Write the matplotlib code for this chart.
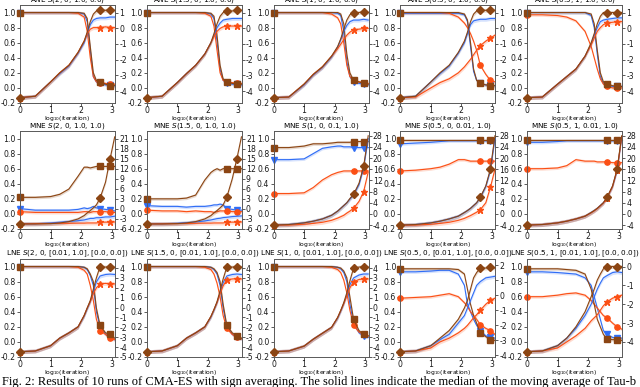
import numpy as np
import matplotlib
matplotlib.use("Agg")
import matplotlib.pyplot as plt

plt.rcParams['axes.unicode_minus'] = False

# log10(iteration) sample points
x = [0, 0.5, 1.0, 1.3, 1.6, 1.9, 2.1, 2.2, 2.3, 2.4, 2.5, 2.62, 2.8, 2.95, 3.1]
mark_idx = [0, 11, 13]

titles = [
    "ANE $S$(2, 0, 1.0, 0.0)", "ANE $S$(1.5, 0, 1.0, 0.0)", "ANE $S$(1, 0, 1.0, 0.0)",
    "ANE $S$(0.5, 0, 1.0, 0.0)", "ANE $S$(0.5, 1, 1.0, 0.0)",
    "MNE $S$(2, 0, 1.0, 1.0)", "MNE $S$(1.5, 0, 1.0, 1.0)", "MNE $S$(1, 0, 0.1, 1.0)",
    "MNE $S$(0.5, 0, 0.01, 1.0)", "MNE $S$(0.5, 1, 0.01, 1.0)",
    "LNE $S$(2, 0, [0.01, 1.0], [0.0, 0.0])", "LNE $S$(1.5, 0, [0.01, 1.0], [0.0, 0.0])",
    "LNE $S$(1, 0, [0.01, 1.0], [0.0, 0.0])", "LNE $S$(0.5, 0, [0.01, 1.0], [0.0, 0.0])",
    "LNE $S$(0.5, 1, [0.01, 1.0], [0.0, 0.0])",
]

# left axis (tau-b): [brown, blue, orange]; right axis (log10): [brown, blue, orange]
ane1_tau = [[1, 1, 1, 1, 1, 1, 0.99, 0.92, 0.55, 0.2, 0.1, 0.08, 0.05, 0.03, 0.03],
            [1, 1, 1, 1, 1, 1, 0.98, 0.88, 0.5, 0.15, 0.08, 0.06, 0.04, 0.04, 0.03],
            [1, 1, 1, 1, 1, 0.99, 0.94, 0.75, 0.4, 0.15, 0.08, 0.07, 0.06, 0.05, 0.05]]
ane1_log = [[-4.42, -4.33, -3.42, -2.84, -2.36, -1.54, -0.82, -0.25, 0.42, 0.9, 1.1, 1.14, 1.14, 1.19, 1.14],
            [-4.42, -4.33, -3.42, -2.89, -2.41, -1.59, -0.92, -0.34, 0.23, 0.52, 0.62, 0.66, 0.66, 0.71, 0.71],
            [-4.42, -4.33, -3.42, -2.84, -2.36, -1.54, -0.82, -0.34, -0.06, 0.04, 0.04, 0.04, 0.09, 0.04, 0.04]]
ane2_tau = [[1, 1, 1, 1, 1, 1, 0.99, 0.95, 0.7, 0.3, 0.12, 0.08, 0.06, 0.05, 0.05],
            [1, 1, 1, 1, 1, 1, 0.98, 0.92, 0.62, 0.25, 0.1, 0.07, 0.05, 0.05, 0.04],
            [1, 1, 1, 1, 1, 0.99, 0.95, 0.82, 0.5, 0.2, 0.1, 0.08, 0.07, 0.06, 0.06]]
ane2_log = [[-4.42, -4.33, -3.46, -2.89, -2.36, -1.64, -0.92, -0.34, 0.28, 0.76, 1.0, 1.1, 1.1, 1.14, 1.14],
            [-4.42, -4.33, -3.46, -2.89, -2.36, -1.64, -0.92, -0.44, 0.04, 0.33, 0.52, 0.57, 0.62, 0.62, 0.62],
            [-4.42, -4.33, -3.46, -2.89, -2.36, -1.64, -0.92, -0.54, -0.2, -0.01, 0.09, 0.14, 0.14, 0.14, 0.14]]
ane3_tau = [[1, 1, 1, 1, 1, 1, 1.0, 0.98, 0.85, 0.45, 0.2, 0.1, 0.08, 0.06, 0.05],
            [1, 1, 1, 1, 1, 1, 0.99, 0.96, 0.75, 0.35, 0.15, 0.08, 0.06, 0.05, 0.04],
            [1, 1, 1, 1, 1, 0.98, 0.93, 0.85, 0.6, 0.3, 0.15, 0.1, 0.08, 0.07, 0.06]]
ane3_log = [[-4.42, -4.38, -3.56, -2.94, -2.46, -1.78, -1.16, -0.68, -0.06, 0.52, 0.86, 1.0, 1.0, 1.05, 1.0],
            [-4.42, -4.38, -3.61, -2.98, -2.5, -1.83, -1.21, -0.73, -0.2, 0.18, 0.42, 0.52, 0.52, 0.57, 0.52],
            [-4.42, -4.38, -3.56, -2.94, -2.46, -1.78, -1.3, -1.02, -0.73, -0.44, -0.25, -0.1, -0.06, -0.01, -0.01]]
ane4_tau = [[1, 1, 1, 1, 1, 1, 0.98, 0.9, 0.6, 0.25, 0.1, 0.06, 0.04, 0.03, 0.03],
            [0.99, 0.99, 0.99, 0.99, 0.99, 0.99, 0.97, 0.88, 0.55, 0.22, 0.1, 0.06, 0.04, 0.04, 0.03],
            [1, 1, 1, 1, 0.99, 0.94, 0.86, 0.8, 0.72, 0.62, 0.5, 0.3, 0.18, 0.1, 0.08]]
ane4_log = [[-4.42, -4.33, -3.42, -2.84, -2.36, -1.54, -0.82, -0.25, 0.42, 0.9, 1.1, 1.14, 1.14, 1.19, 1.14],
            [-4.42, -4.33, -3.42, -2.89, -2.41, -1.59, -0.92, -0.34, 0.23, 0.47, 0.52, 0.57, 0.57, 0.62, 0.62],
            [-4.42, -4.38, -3.8, -3.46, -3.22, -2.84, -2.46, -2.22, -1.98, -1.69, -1.4, -1.11, -0.82, -0.63, -0.44]]
ane5_tau = [[1, 1, 1, 1, 1, 1, 0.98, 0.85, 0.5, 0.2, 0.08, 0.05, 0.03, 0.02, 0.02],
            [1, 1, 1, 1, 1, 1, 0.96, 0.8, 0.45, 0.15, 0.06, 0.04, 0.02, 0.02, 0.02],
            [0.97, 0.97, 0.96, 0.94, 0.89, 0.75, 0.55, 0.4, 0.25, 0.12, 0.05, 0.02, 0.0, 0.0, 0.0]]
ane5_log = [[-4.42, -4.38, -3.56, -3.08, -2.6, -1.78, -0.92, -0.34, 0.28, 0.76, 1.0, 1.0, 1.0, 1.0, 1.0],
            [-4.42, -4.38, -3.56, -3.08, -2.6, -1.78, -1.02, -0.44, 0.04, 0.42, 0.52, 0.57, 0.62, 0.66, 0.66],
            [-4.42, -4.38, -3.56, -3.08, -2.6, -1.78, -1.06, -0.63, -0.2, 0.04, 0.23, 0.33, 0.38, 0.42, 0.42]]

mne1_tau = [[0.22, 0.22, 0.23, 0.26, 0.33, 0.5, 0.62, 0.62, 0.61, 0.62, 0.63, 0.63, 0.63, 0.63, 0.63],
            [0.07, 0.05, 0.05, 0.05, 0.05, 0.06, 0.08, 0.07, 0.08, 0.1, 0.08, 0.07, 0.06, 0.05, 0.04],
            [0.03, 0.02, 0.02, 0.02, 0.02, 0.02, 0.03, 0.03, 0.02, 0.03, 0.03, 0.03, 0.03, 0.02, 0.02]]
mne1_log = [[-4.5, -4.5, -4.4, -4.2, -3.8, -3.0, -2.0, -1.2, -0.5, 0.3, 1.2, 3.2, 8, 15, 21.5],
            [-4.43, -4.43, -4.2, -3.98, -3.75, -3.53, -3.3, -3.08, -2.85, -2.85, -2.63, -2.63, -2.4, -2.4, -2.18],
            [-4.5, -4.4, -4.35, -4.3, -4.3, -4.25, -4.25, -4.2, -4.2, -4.2, -4.2, -4.0, -3.95, -3.95, -3.9]]
mne2_tau = [[0.2, 0.2, 0.2, 0.21, 0.25, 0.45, 0.55, 0.58, 0.6, 0.58, 0.6, 0.6, 0.6, 0.6, 0.6],
            [0.11, 0.1, 0.1, 0.09, 0.1, 0.1, 0.11, 0.12, 0.12, 0.13, 0.12, 0.07, 0.06, 0.05, 0.05],
            [0.05, 0.04, 0.04, 0.03, 0.04, 0.03, 0.03, 0.02, 0.03, 0.04, 0.04, 0.04, 0.03, 0.03, 0.03]]
mne2_log = [[-4.5, -4.5, -4.4, -4.2, -3.8, -3.0, -2.0, -1.2, -0.5, 0.3, 1.2, 3.5, 9, 15, 21.5],
            [-4.43, -4.43, -4.3, -4.1, -3.9, -3.6, -3.3, -3.1, -2.9, -2.8, -2.6, -2.5, -2.3, -2.2, -2.1],
            [-4.5, -4.45, -4.4, -4.35, -4.3, -4.25, -4.25, -4.2, -4.2, -4.2, -4.2, -4.0, -3.95, -3.95, -3.9]]
mne3_tau = [[0.88, 0.88, 0.9, 0.93, 0.93, 0.94, 0.95, 0.95, 0.95, 0.95, 0.95, 0.96, 0.96, 0.96, 0.96],
            [0.72, 0.72, 0.73, 0.8, 0.87, 0.89, 0.9, 0.9, 0.89, 0.89, 0.89, 0.88, 0.88, 0.88, 0.88],
            [0.27, 0.27, 0.28, 0.35, 0.45, 0.52, 0.55, 0.56, 0.57, 0.57, 0.57, 0.57, 0.57, 0.57, 0.57]]
mne3_log = [[-4, -3.8, -3.2, -2.6, -1.8, -0.5, 1, 2, 3, 4, 5.5, 7, 11, 17, 28],
            [-4, -3.8, -3.2, -2.6, -1.8, -0.5, 1, 2, 3, 4, 5.3, 6.8, 10.5, 16.5, 27],
            [-4, -4, -3.7, -3.4, -3, -2.3, -1.5, -1, -0.5, 0.3, 1, 2, 4.5, 8, 15]]
mne4_tau = [[0.98] * 15,
            [0.93, 0.94, 0.95, 0.96, 0.97, 0.97, 0.97, 0.97, 0.97, 0.97, 0.97, 0.97, 0.97, 0.97, 0.97],
            [0.57, 0.58, 0.6, 0.62, 0.66, 0.72, 0.72, 0.71, 0.7, 0.7, 0.7, 0.7, 0.7, 0.7, 0.7]]
mne4_log = [[-4, -3.8, -3.2, -2.6, -1.8, -0.8, 0.5, 1.2, 2, 3, 4, 6, 10, 16, 28],
            [-4, -3.8, -3.2, -2.6, -1.8, -0.8, 0.5, 1.2, 2, 3, 4, 5.8, 9.8, 15.5, 27],
            [-4, -4, -3.7, -3.4, -3, -2.3, -1.6, -1.1, -0.6, 0, 0.6, 1.5, 4, 9.5, 16]]
mne5_tau = [[0.98] * 15,
            [0.95, 0.95, 0.96, 0.97, 0.97, 0.97, 0.97, 0.97, 0.97, 0.97, 0.97, 0.97, 0.97, 0.97, 0.97],
            [0.6, 0.6, 0.61, 0.64, 0.72, 0.7, 0.7, 0.7, 0.69, 0.69, 0.69, 0.69, 0.68, 0.68, 0.68]]
mne5_log = [[-4, -3.8, -3.2, -2.6, -1.8, -0.8, 0.5, 1.2, 2, 3, 4, 6, 10, 16, 28],
            [-4, -3.8, -3.2, -2.6, -1.8, -0.8, 0.5, 1.2, 2, 3, 4, 5.8, 9.8, 15.5, 27.5],
            [-4, -3.8, -3.2, -2.6, -1.8, -0.8, 0.4, 1.1, 1.9, 2.9, 3.9, 5.8, 9.8, 15.8, 27.5]]

lne1_tau = [[1, 1, 1, 1, 1, 1, 0.99, 0.97, 0.9, 0.8, 0.45, 0.22, 0.12, 0.1, 0.05],
            [1, 1, 1, 1, 1, 1, 0.99, 0.96, 0.88, 0.75, 0.4, 0.2, 0.1, 0.06, 0.03],
            [1, 1, 1, 1, 1, 0.99, 0.95, 0.9, 0.75, 0.55, 0.3, 0.15, 0.1, 0.05, 0.03]]
lne1_log = [[-4.47, -4.39, -3.86, -3.09, -2.56, -1.95, -0.8, -0.04, 0.72, 1.87, 3.01, 4.16, 4.1, 4.16, 4.08],
            [-4.47, -4.39, -3.86, -3.09, -2.56, -1.95, -0.85, -0.1, 0.6, 1.6, 2.6, 3.2, 3.35, 3.39, 3.35],
            [-4.47, -4.39, -3.86, -3.09, -2.56, -1.95, -0.8, -0.04, 0.6, 1.4, 2.0, 2.4, 2.45, 2.4, 2.4]]
lne2_tau = [[1, 1, 1, 1, 1, 1, 0.99, 0.97, 0.92, 0.8, 0.5, 0.22, 0.12, 0.08, 0.05],
            [1, 1, 1, 1, 1, 1, 0.99, 0.96, 0.9, 0.75, 0.45, 0.2, 0.1, 0.06, 0.04],
            [1, 1, 1, 1, 1, 0.99, 0.96, 0.9, 0.78, 0.6, 0.35, 0.18, 0.1, 0.06, 0.04]]
lne2_log = [[-4.47, -4.39, -3.86, -3.09, -2.56, -1.95, -0.9, -0.2, 0.6, 1.7, 2.9, 4.1, 4.1, 4.16, 4.1],
            [-4.47, -4.39, -3.86, -3.09, -2.56, -1.95, -0.95, -0.25, 0.5, 1.5, 2.5, 3.2, 3.35, 3.4, 3.35],
            [-4.47, -4.39, -3.86, -3.09, -2.56, -1.95, -0.9, -0.2, 0.5, 1.4, 2.2, 2.8, 2.9, 2.93, 2.9]]
lne3_tau = [[1, 1, 1, 1, 1, 1, 0.99, 0.98, 0.94, 0.85, 0.6, 0.3, 0.15, 0.1, 0.08],
            [1, 1, 1, 1, 1, 1, 0.99, 0.97, 0.92, 0.8, 0.5, 0.25, 0.12, 0.08, 0.06],
            [1, 1, 1, 1, 1, 0.99, 0.96, 0.92, 0.82, 0.65, 0.42, 0.22, 0.13, 0.1, 0.08]]
lne3_log = [[-4.47, -4.39, -3.9, -3.2, -2.6, -2.0, -1.0, -0.3, 0.5, 1.5, 2.7, 4.0, 4.1, 4.16, 4.1],
            [-4.47, -4.39, -3.9, -3.2, -2.6, -2.0, -1.05, -0.35, 0.4, 1.3, 2.3, 3.0, 3.3, 3.4, 3.4],
            [-4.47, -4.39, -3.9, -3.2, -2.6, -2.0, -1.0, -0.3, 0.4, 1.2, 2.0, 2.6, 2.85, 2.9, 2.9]]
lne4_tau = [[0.97, 0.97, 0.97, 0.97, 0.97, 0.96, 0.9, 0.7, 0.5, 0.35, 0.25, 0.12, 0.07, 0.03, 0.02],
            [0.93, 0.93, 0.94, 0.95, 0.95, 0.9, 0.75, 0.5, 0.4, 0.3, 0.22, 0.15, 0.08, 0.06, 0.05],
            [0.58, 0.59, 0.6, 0.62, 0.64, 0.6, 0.52, 0.47, 0.4, 0.35, 0.3, 0.23, 0.18, 0.15, 0.1]]
lne4_log = [[-3.75, -3.7, -3.35, -2.85, -2.35, -1.6, -0.85, -0.35, 0.4, 1.15, 1.5, 1.8, 1.8, 1.85, 1.8],
            [-3.75, -3.7, -3.35, -2.95, -2.6, -1.85, -1.35, -0.85, -0.35, 0.15, 0.65, 0.9, 1.15, 1.2, 1.25],
            [-3.75, -3.7, -3.5, -3.1, -2.85, -2.5, -2.2, -2.0, -1.75, -1.5, -1.3, -1.0, -0.6, -0.35, -0.2]]
lne5_tau = [[0.97, 0.97, 0.97, 0.96, 0.95, 0.9, 0.7, 0.5, 0.3, 0.2, 0.1, 0.04, 0.03, 0.03, 0.02],
            [0.93, 0.93, 0.92, 0.91, 0.9, 0.85, 0.75, 0.6, 0.45, 0.3, 0.15, 0.1, 0.06, 0.05, 0.05],
            [0.6, 0.6, 0.62, 0.64, 0.65, 0.62, 0.55, 0.5, 0.45, 0.4, 0.35, 0.32, 0.25, 0.2, 0.17]]
lne5_log = [[-4.52, -4.48, -4.2, -3.8, -3.2, -2.4, -1.6, -1.2, -0.72, -0.4, -0.12, 0, 0, 0, 0],
            [-4.52, -4.48, -4.2, -3.8, -3.28, -2.6, -2.0, -1.6, -1.2, -0.88, -0.6, -0.48, -0.32, -0.28, -0.32],
            [-4.52, -4.48, -4.32, -4.0, -3.68, -3.28, -2.88, -2.72, -2.56, -2.32, -2.08, -1.88, -1.68, -1.6, -1.52]]

tau_sets = [ane1_tau, ane2_tau, ane3_tau, ane4_tau, ane5_tau,
            mne1_tau, mne2_tau, mne3_tau, mne4_tau, mne5_tau,
            lne1_tau, lne2_tau, lne3_tau, lne4_tau, lne5_tau]
log_sets = [ane1_log, ane2_log, ane3_log, ane4_log, ane5_log,
            mne1_log, mne2_log, mne3_log, mne4_log, mne5_log,
            lne1_log, lne2_log, lne3_log, lne4_log, lne5_log]

# right axis limits and ticks per panel
right_lims = [(-4.76, 1.48)] * 5 + [(-6, 23.25)] * 2 + [(-5.4, 29.7)] * 3 \
    + [(-5, 4.92)] * 3 + [(-4.1, 2.4), (-4.8, 0.4)]
right_ticks = [range(-4, 2)] * 5 + [range(-6, 22, 3)] * 2 + [range(-4, 29, 4)] * 3 \
    + [range(-5, 5)] * 3 + [range(-4, 3), range(-4, 1)]

brown = '#8b4513'
blue = '#2f6df6'
orange = '#fb4f14'
colors = [brown, blue, orange]
tau_marks = ['s', 'v', 'o']
log_marks = ['D', None, '*']

fig = plt.figure(figsize=(6.4, 3.87), dpi=100)
W, H = 640.0, 387.0

for k in range(15):
    r, c = divmod(k, 5)
    left = 20 + 126.75 * c
    top = [5, 131, 259][r]
    ax = fig.add_axes([left / W, 1 - (top + 98) / H, 95 / W, 98 / H])
    ax2 = ax.twinx()
    lo, hi = right_lims[k]
    span = hi - lo
    for j in [1, 2, 0]:
        y = np.array(tau_sets[k][j])
        ax.fill_between(x, y - 0.02, y + 0.02, color=colors[j], alpha=0.2, lw=0)
        ax.plot(x, y, color=colors[j], lw=0.8, marker=tau_marks[j], ms=3.8,
                markevery=mark_idx, clip_on=False, zorder=3)
        y2 = np.array(log_sets[k][j])
        ax2.fill_between(x, y2 - 0.02 * span, y2 + 0.02 * span, color=colors[j], alpha=0.2, lw=0)
        ax2.plot(x, y2, color=colors[j], lw=0.8, marker=log_marks[j],
                 ms=4.8 if j == 2 else 3.6, markevery=mark_idx, clip_on=False, zorder=3)
    ax.set_xlim(0, 3.11)
    ax.set_ylim(-0.2, 1.1)
    ax.set_yticks([-0.2, 0.0, 0.2, 0.4, 0.6, 0.8, 1.0])
    ax.set_xticks([0, 1, 2, 3])
    ax2.set_ylim(lo, hi)
    ax2.set_yticks(list(right_ticks[k]))
    ax.set_title(titles[k], fontsize=5.2, pad=0.3)
    ax.set_xlabel('log$_{10}$(iteration)', fontsize=4.3, labelpad=-0.8)
    ax.tick_params(axis='x', pad=0.3)
    for a in (ax, ax2):
        a.tick_params(labelsize=5.6, length=2, width=0.5, colors='0.1')
        a.tick_params(axis='y', pad=1)
        for s in a.spines.values():
            s.set_linewidth(0.6)
            s.set_color('0.35')

fig.text(0.003, 1 - 381.8 / H,
         "Fig. 2: Results of 10 runs of CMA-ES with sign averaging. The solid lines indicate the median of the moving average of Tau-b",
         family='Liberation Serif', fontsize=9.0, va='center', ha='left')

fig.savefig('out.png', dpi=100)
